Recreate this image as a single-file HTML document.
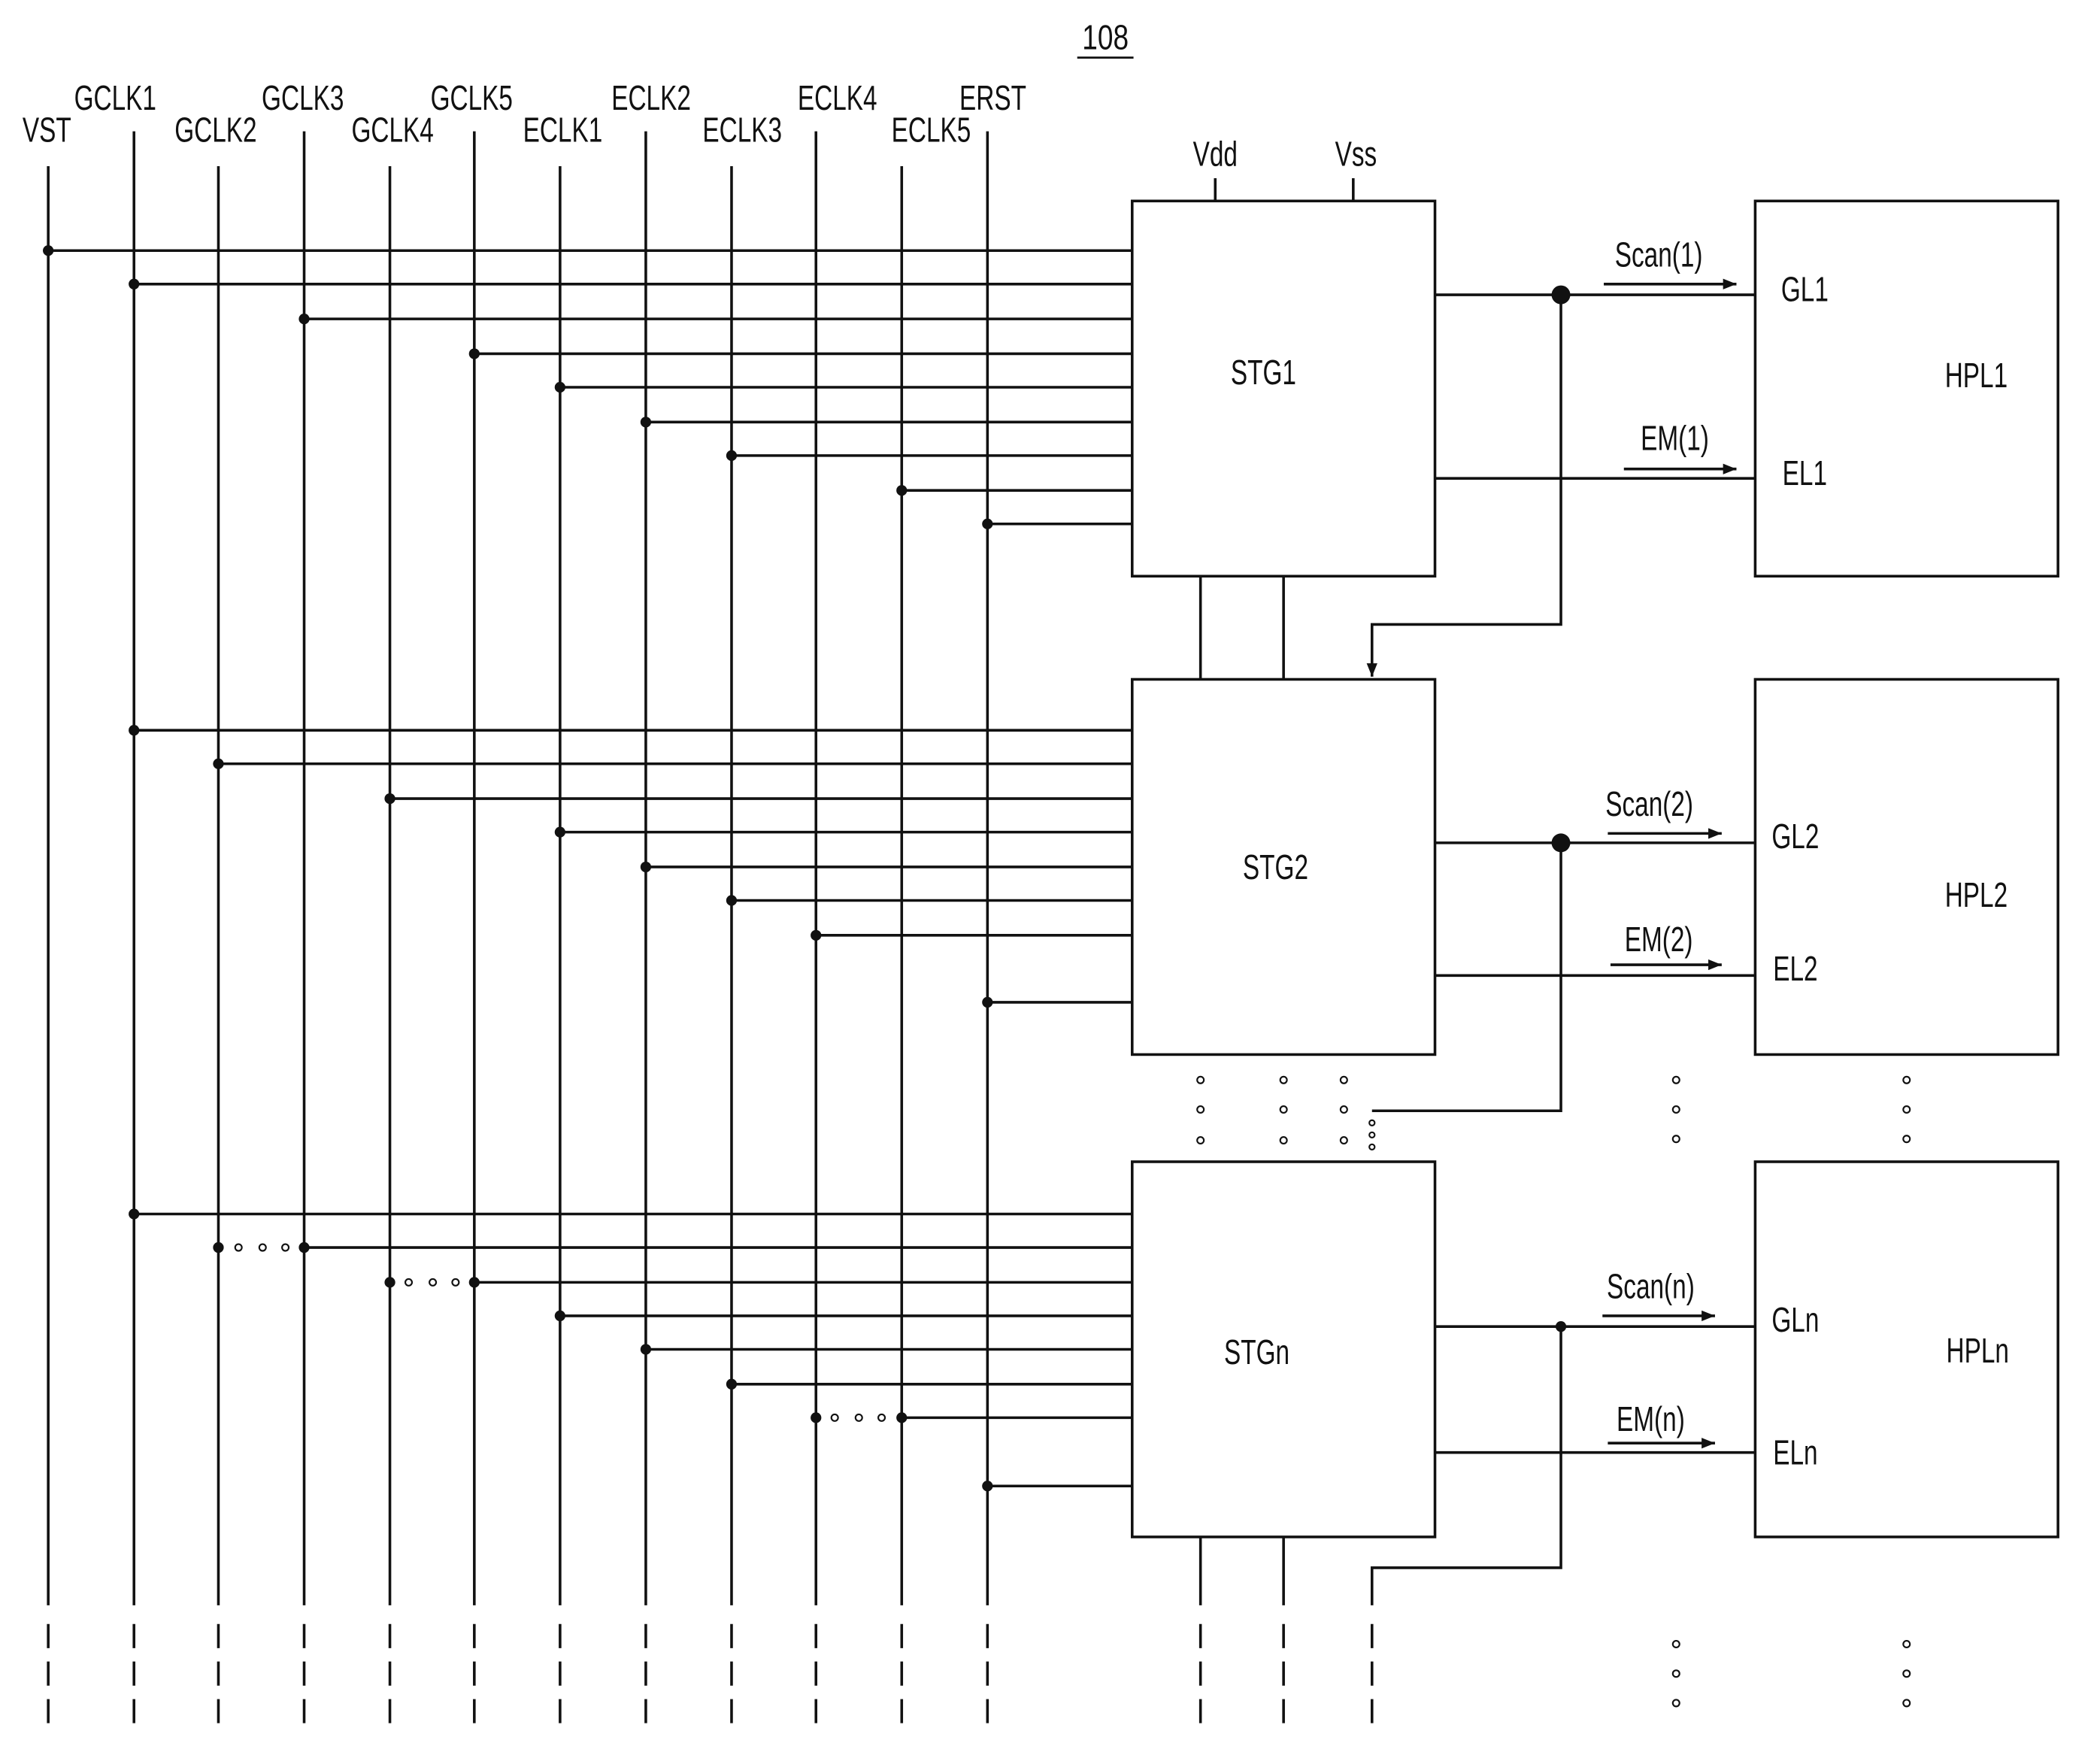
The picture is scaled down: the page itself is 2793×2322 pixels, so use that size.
<!DOCTYPE html>
<html><head><meta charset="utf-8"><style>
html,body{margin:0;padding:0;background:#fff;}
svg{display:block;}
text{font-family:"Liberation Sans",sans-serif;font-size:26px;fill:#111;text-anchor:middle;dominant-baseline:middle;}
</style></head><body>
<svg width="2793" height="2322" viewBox="0 0 1551.67 1290" preserveAspectRatio="none" xmlns="http://www.w3.org/2000/svg">
<defs><marker id="a" markerWidth="10" markerHeight="8" refX="10" refY="4" orient="auto" markerUnits="userSpaceOnUse"><path d="M0,0 L10,4 L0,8 z" fill="#111"/></marker></defs>
<g transform="scale(0.99)">
<g stroke="#111" stroke-width="2" fill="none">
<path d="M36,124V1198M100,98V1198M163,124V1198M227,98V1198M291,124V1198M354,98V1198M418,124V1198M482,98V1198M546,124V1198M609,98V1198M673,124V1198M737,98V1198"/>
<g stroke-dasharray="18 10">
<path d="M36,1212V1290M100,1212V1290M163,1212V1290M227,1212V1290M291,1212V1290M354,1212V1290M418,1212V1290M482,1212V1290M546,1212V1290M609,1212V1290M673,1212V1290M737,1212V1290M896,1212V1290M958,1212V1290M1024,1212V1290"/>
</g>
<rect x="845" y="150" width="226" height="280"/>
<rect x="845" y="507" width="226" height="280"/>
<rect x="845" y="867" width="226" height="280"/>
<rect x="1310" y="150" width="226" height="280"/>
<rect x="1310" y="507" width="226" height="280"/>
<rect x="1310" y="867" width="226" height="280"/>
<path d="M36,187H845M100,212H845M227,238H845M354,264H845M418,289H845M482,315H845M546,340H845M673,366H845M737,391H845"/>
<path d="M100,545H845M163,570H845M291,596H845M418,621H845M482,647H845M546,672H845M609,698H845M737,748H845"/>
<path d="M100,906H845M227,931H845M354,957H845M418,982H845M482,1007H845M546,1033H845M673,1058H845M737,1109H845"/>
<path d="M907,133V150M1010,133V150"/>
<path d="M896,430V507M958,430V507"/>
<path d="M896,1147V1198M958,1147V1198"/>
<path d="M1024,1198V1170H1165V990"/>
<path d="M1071,220H1310M1071,357H1310M1071,629H1310M1071,728H1310M1071,990H1310M1071,1084H1310"/>
<path d="M1165,220V466H1024V505" marker-end="url(#a)"/>
<path d="M1024,829H1165V629"/>
<path d="M1197,212H1296" marker-end="url(#a)"/>
<path d="M1212,350H1296" marker-end="url(#a)"/>
<path d="M1200,622H1285" marker-end="url(#a)"/>
<path d="M1202,720H1285" marker-end="url(#a)"/>
<path d="M1196,982H1280" marker-end="url(#a)"/>
<path d="M1200,1077H1280" marker-end="url(#a)"/>
<path d="M804,43H846" stroke-width="1.5"/>
</g>
<g fill="#111">
<circle cx="36" cy="187" r="4"/><circle cx="100" cy="212" r="4"/><circle cx="227" cy="238" r="4"/><circle cx="354" cy="264" r="4"/><circle cx="418" cy="289" r="4"/><circle cx="482" cy="315" r="4"/><circle cx="546" cy="340" r="4"/><circle cx="673" cy="366" r="4"/><circle cx="737" cy="391" r="4"/>
<circle cx="100" cy="545" r="4"/><circle cx="163" cy="570" r="4"/><circle cx="291" cy="596" r="4"/><circle cx="418" cy="621" r="4"/><circle cx="482" cy="647" r="4"/><circle cx="546" cy="672" r="4"/><circle cx="609" cy="698" r="4"/><circle cx="737" cy="748" r="4"/>
<circle cx="100" cy="906" r="4"/><circle cx="163" cy="931" r="4"/><circle cx="227" cy="931" r="4"/><circle cx="291" cy="957" r="4"/><circle cx="354" cy="957" r="4"/><circle cx="418" cy="982" r="4"/><circle cx="482" cy="1007" r="4"/><circle cx="546" cy="1033" r="4"/><circle cx="609" cy="1058" r="4"/><circle cx="673" cy="1058" r="4"/><circle cx="737" cy="1109" r="4"/>
<circle cx="1165" cy="220" r="7"/><circle cx="1165" cy="629" r="7"/><circle cx="1165" cy="990" r="4"/>
</g>
<g fill="none" stroke="#111" stroke-width="1.2">
<circle cx="178" cy="931" r="2.5"/><circle cx="196" cy="931" r="2.5"/><circle cx="213" cy="931" r="2.5"/>
<circle cx="305" cy="957" r="2.5"/><circle cx="323" cy="957" r="2.5"/><circle cx="340" cy="957" r="2.5"/>
<circle cx="623" cy="1058" r="2.5"/><circle cx="641" cy="1058" r="2.5"/><circle cx="658" cy="1058" r="2.5"/>
<circle cx="896" cy="806" r="2.5"/><circle cx="896" cy="828" r="2.5"/><circle cx="896" cy="851" r="2.5"/>
<circle cx="958" cy="806" r="2.5"/><circle cx="958" cy="828" r="2.5"/><circle cx="958" cy="851" r="2.5"/>
<circle cx="1003" cy="806" r="2.5"/><circle cx="1003" cy="828" r="2.5"/><circle cx="1003" cy="851" r="2.5"/>
<circle cx="1024" cy="838" r="2"/><circle cx="1024" cy="847" r="2"/><circle cx="1024" cy="856" r="2"/>
<circle cx="1251" cy="806" r="2.5"/><circle cx="1251" cy="828" r="2.5"/><circle cx="1251" cy="850" r="2.5"/>
<circle cx="1423" cy="806" r="2.5"/><circle cx="1423" cy="828" r="2.5"/><circle cx="1423" cy="850" r="2.5"/>
<circle cx="1251" cy="1227" r="2.5"/><circle cx="1251" cy="1249" r="2.5"/><circle cx="1251" cy="1271" r="2.5"/>
<circle cx="1423" cy="1227" r="2.5"/><circle cx="1423" cy="1249" r="2.5"/><circle cx="1423" cy="1271" r="2.5"/>
</g>
<text transform="translate(825,30) scale(.8,1)">108</text>
<text transform="translate(35,99) scale(.72,1)">VST</text>
<text transform="translate(86,75) scale(.72,1)">GCLK1</text>
<text transform="translate(161,99) scale(.72,1)">GCLK2</text>
<text transform="translate(226,75) scale(.72,1)">GCLK3</text>
<text transform="translate(293,99) scale(.72,1)">GCLK4</text>
<text transform="translate(352,75) scale(.72,1)">GCLK5</text>
<text transform="translate(420,99) scale(.72,1)">ECLK1</text>
<text transform="translate(486,75) scale(.72,1)">ECLK2</text>
<text transform="translate(554,99) scale(.72,1)">ECLK3</text>
<text transform="translate(625,75) scale(.72,1)">ECLK4</text>
<text transform="translate(695,99) scale(.72,1)">ECLK5</text>
<text transform="translate(741,75) scale(.72,1)">ERST</text>
<text transform="translate(907,117) scale(.72,1)">Vdd</text>
<text transform="translate(1012,117) scale(.72,1)">Vss</text>
<text transform="translate(943,280) scale(.72,1)">STG1</text>
<text transform="translate(952,649) scale(.72,1)">STG2</text>
<text transform="translate(938,1011) scale(.72,1)">STGn</text>
<text transform="translate(1238,192) scale(.72,1)">Scan(1)</text>
<text transform="translate(1250,329) scale(.72,1)">EM(1)</text>
<text transform="translate(1231,602) scale(.72,1)">Scan(2)</text>
<text transform="translate(1238,703) scale(.72,1)">EM(2)</text>
<text transform="translate(1232,962) scale(.72,1)">Scan(n)</text>
<text transform="translate(1232,1061) scale(.72,1)">EM(n)</text>
<text transform="translate(1347,218) scale(.72,1)">GL1</text>
<text transform="translate(1347,355) scale(.72,1)">EL1</text>
<text transform="translate(1475,282) scale(.72,1)">HPL1</text>
<text transform="translate(1340,626) scale(.72,1)">GL2</text>
<text transform="translate(1340,725) scale(.72,1)">EL2</text>
<text transform="translate(1475,670) scale(.72,1)">HPL2</text>
<text transform="translate(1340,987) scale(.72,1)">GLn</text>
<text transform="translate(1340,1086) scale(.72,1)">ELn</text>
<text transform="translate(1476,1010) scale(.72,1)">HPLn</text>
</g>
</svg>
</body></html>
